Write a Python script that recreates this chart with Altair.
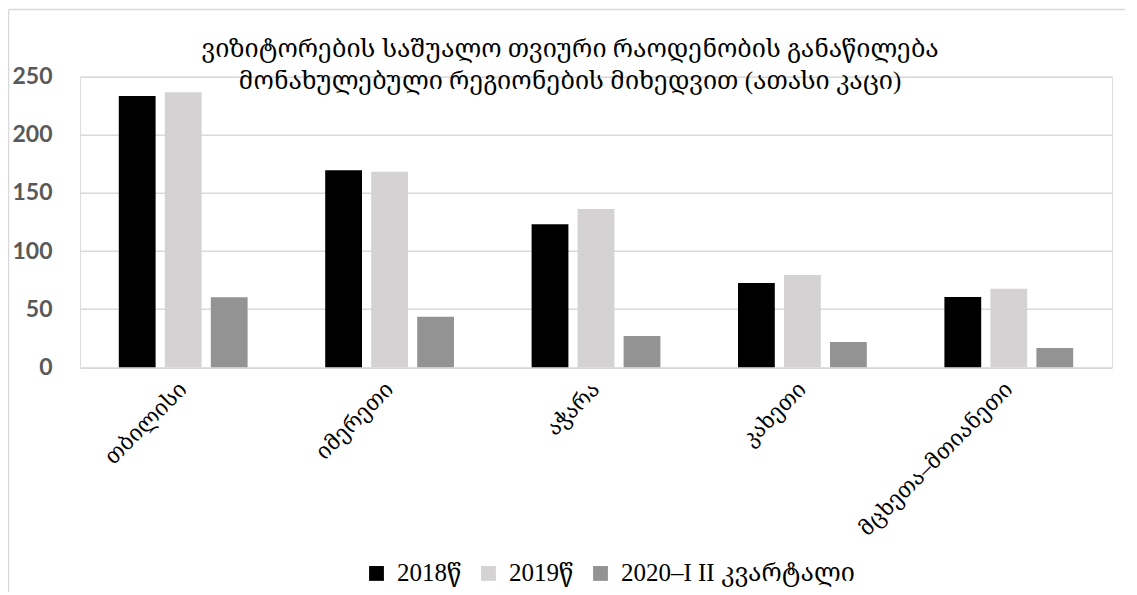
import altair as alt
import pandas as pd

regions = ["თბილისი", "იმერეთი", "აჭარა", "კახეთი", "მცხეთა–მთიანეთი"]
series = ["2018წ", "2019წ", "2020–I II კვარტალი"]
v2018 = [233.4, 169.5, 123.0, 72.5, 60.5]
v2019 = [236.6, 168.3, 136.2, 79.5, 67.5]
v2020 = [60.2, 43.5, 27.0, 21.8, 16.6]
colors = ["#000000", "#d4d2d3", "#939393"]
title_line1 = "ვიზიტორების საშუალო თვიური რაოდენობის განაწილება"
title_line2 = "მონახულებული რეგიონების მიხედვით (ათასი კაცი)"

rows = []
for s, vals in zip(series, [v2018, v2019, v2020]):
    for r, v in zip(regions, vals):
        rows.append({"region": r, "series": s, "value": v})
df = pd.DataFrame(rows)

SERIF = "Liberation Serif, Noto Serif Georgian, Noto Sans Georgian, DejaVu Serif, DejaVu Sans"

bars = alt.Chart(df).mark_bar().encode(
    x=alt.X("region:N", sort=regions,
            scale=alt.Scale(paddingInner=0.376, paddingOuter=0.188),
            axis=alt.Axis(title=None, labelAngle=-45, labelAlign="right",
                          labelBaseline="middle", labelPadding=18,
                          ticks=False, domain=False, grid=False,
                          labelFont=SERIF, labelFontSize=22,
                          labelColor="#000000", labelLimit=400)),
    xOffset=alt.XOffset("series:N", sort=series,
                        scale=alt.Scale(paddingInner=0.2, paddingOuter=0)),
    y=alt.Y("value:Q", scale=alt.Scale(domain=[0, 250], nice=False),
            axis=alt.Axis(title=None, values=[0, 50, 100, 150, 200, 250],
                          ticks=False, domain=False, grid=True,
                          gridColor="#d9d9d9", gridWidth=1.5,
                          labelFont="Lato", labelFontWeight="bold",
                          labelFontSize=23, labelColor="#595959",
                          labelPadding=28)),
    color=alt.Color("series:N", sort=series,
                    scale=alt.Scale(domain=series, range=colors),
                    legend=alt.Legend(title=None, orient="none",
                                      direction="horizontal",
                                      legendX=284, legendY=484,
                                      symbolType="square", symbolSize=220,
                                      symbolStrokeWidth=0,
                                      labelFont=SERIF, labelFontSize=25,
                                      labelColor="#000000", labelOffset=8,
                                      columnPadding=14, labelLimit=400)),
)

one = pd.DataFrame({"k": [0]})

title1 = alt.Chart(one).mark_text(
    text=title_line1, font=SERIF, fontSize=25, color="#000000",
    align="center", baseline="middle", clip=False
).encode(x=alt.value(490), y=alt.value(-28))

title2 = alt.Chart(one).mark_text(
    text=title_line2, font=SERIF, fontSize=25, color="#000000",
    align="center", baseline="middle", clip=False
).encode(x=alt.value(490), y=alt.value(4))

frame_left = alt.Chart(one).mark_rule(
    color="#d9d9d9", strokeWidth=1.5, clip=False
).encode(x=alt.value(-71.5), y=alt.value(-67.2), y2=alt.value(520))

frame_top = alt.Chart(one).mark_rule(
    color="#d9d9d9", strokeWidth=1.5, clip=False
).encode(x=alt.value(-71.5), x2=alt.value(1045), y=alt.value(-67.2))

chart = alt.layer(bars, title1, title2, frame_left, frame_top).properties(
    width=1032,
    height=290.6,
    autosize=alt.AutoSizeParams(type="none"),
    padding={"left": 72, "top": 68.7, "right": 15, "bottom": 225},
).configure_view(stroke=None).configure(background="white")

chart.save("out.html", embed_options={"renderer": "svg", "actions": False})
